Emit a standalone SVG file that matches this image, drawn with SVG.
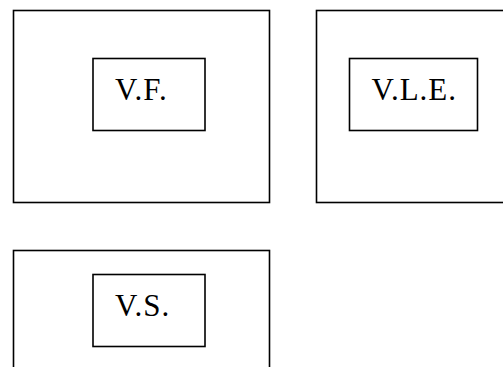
<svg xmlns="http://www.w3.org/2000/svg" width="503" height="367" viewBox="0 0 503 367">
<style>
rect{fill:none;stroke:#000;stroke-width:1.6}
text{font-family:"Liberation Serif","Times New Roman",serif;font-size:31px;letter-spacing:1px;fill:#000}
</style>
<rect x="0" y="0" width="503" height="367" style="fill:#fff;stroke:none"/>
<g id="vf">
<rect x="13.5" y="10.5" width="256" height="192"/>
<rect x="93" y="58.5" width="112" height="72"/>
<text x="115" y="99.5">V.F.</text>
</g>
<g id="vle">
<rect x="316.5" y="10.5" width="256" height="192"/>
<rect x="349.5" y="58.5" width="128" height="72"/>
<text x="371.5" y="99.5">V.L.E.</text>
</g>
<g id="vs">
<rect x="13.5" y="250.5" width="256" height="192"/>
<rect x="93" y="274.5" width="112" height="72"/>
<text x="115" y="315.5">V.S.</text>
</g>
<g id="connectors"/>
</svg>
